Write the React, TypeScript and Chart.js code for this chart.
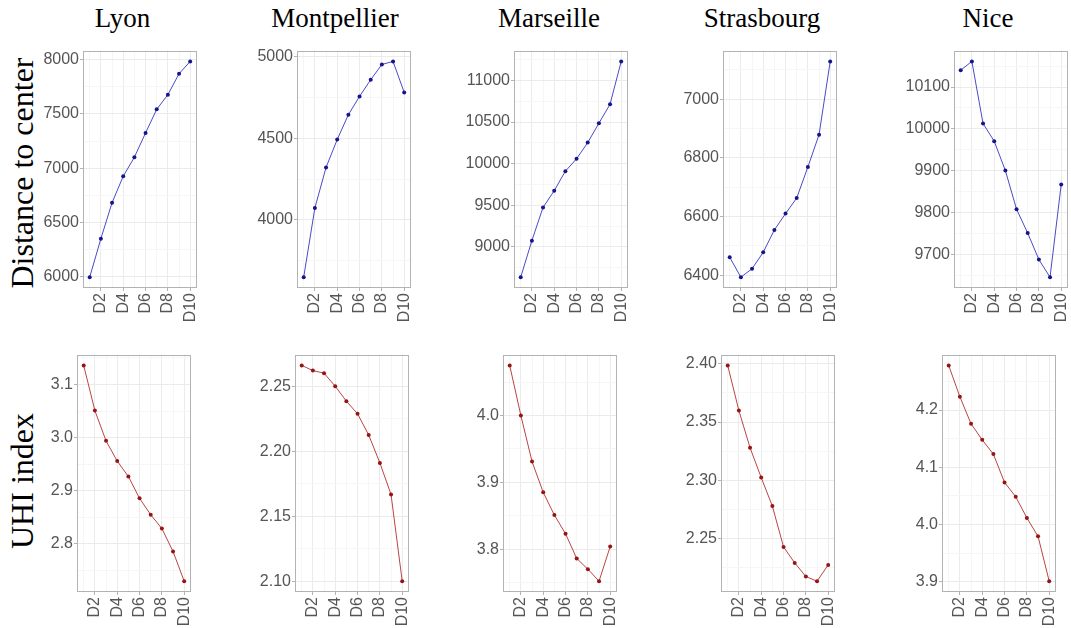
import React, { useEffect, useRef } from "react";
import { Chart, registerables } from "chart.js";

Chart.register(...registerables);

// ---------- data ----------
const deciles = ["D1", "D2", "D3", "D4", "D5", "D6", "D7", "D8", "D9", "D10"];
const cities = ["Lyon", "Montpellier", "Marseille", "Strasbourg", "Nice"];
const rowLabels = ["Distance to center", "UHI index"];

const distLyon = [5995, 6350, 6681, 6926, 7101, 7325, 7543, 7678, 7871, 7985];
const distMontpellier = [3650, 4073, 4321, 4492, 4644, 4756, 4858, 4951, 4970, 4780];
const distMarseille = [8637, 9076, 9475, 9675, 9910, 10058, 10253, 10485, 10713, 11228];
const distStrasbourg = [6461, 6393, 6422, 6478, 6554, 6610, 6663, 6769, 6879, 7129];
const distNice = [10140, 10161, 10013, 9971, 9901, 9809, 9752, 9689, 9647, 9868];

const uhiLyon = [3.136, 3.051, 2.994, 2.956, 2.927, 2.886, 2.855, 2.829, 2.786, 2.73];
const uhiMontpellier = [2.266, 2.262, 2.26, 2.25, 2.2385, 2.2288, 2.2124, 2.191, 2.1667, 2.1];
const uhiMarseille = [4.075, 4.0, 3.931, 3.885, 3.851, 3.823, 3.786, 3.77, 3.752, 3.804];
const uhiStrasbourg = [2.3986, 2.3599, 2.328, 2.3024, 2.2779, 2.2429, 2.2292, 2.2175, 2.2135, 2.2275];
const uhiNice = [4.278, 4.2232, 4.176, 4.148, 4.123, 4.0735, 4.0486, 4.0115, 3.9795, 3.901];

// y tick labels (major breaks) per panel
const distTicks = [
  [6000, 6500, 7000, 7500, 8000],
  [4000, 4500, 5000],
  [9000, 9500, 10000, 10500, 11000],
  [6400, 6600, 6800, 7000],
  [9700, 9800, 9900, 10000, 10100],
];
const uhiTicks = [
  [2.8, 2.9, 3.0, 3.1],
  [2.1, 2.15, 2.2, 2.25],
  [3.8, 3.9, 4.0],
  [2.25, 2.3, 2.35, 2.4],
  [3.9, 4.0, 4.1, 4.2],
];
const distDecimals = [0, 0, 0, 0, 0];
const uhiDecimals = [1, 2, 1, 2, 1];

const distSeries = [distLyon, distMontpellier, distMarseille, distStrasbourg, distNice];
const uhiSeries = [uhiLyon, uhiMontpellier, uhiMarseille, uhiStrasbourg, uhiNice];

// ---------- layout / style ----------
const PLOT_W = 119;
const PLOT_H = 238;
const YW = 60;
const XH = 40;
const PAD_T = 10;
const PAD_R = 10;
const topLefts = [83, 297, 514, 723, 954];
const bottomLefts = [77, 295, 503, 721, 942];
const rowTops = [50, 354];
const titleCenters = [122.5, 335, 549, 762, 988];

const MAJOR_GRID = "#ebebeb";
const MINOR_GRID = "#f6f6f6";
const BORDER = "#b3b3b3";
const TICK_TEXT = "#555555";
const TICK_FONT = { family: "'Liberation Sans', Arial, sans-serif", size: 16 };
const SERIF = "'Liberation Serif', 'Times New Roman', serif";

const frame = {
  id: "frame",
  afterDraw(chart: any) {
    const { left, top, right, bottom } = chart.chartArea;
    const ctx = chart.ctx;
    ctx.save();
    ctx.strokeStyle = BORDER;
    ctx.lineWidth = 1;
    ctx.strokeRect(Math.round(left) + 0.5, Math.round(top) + 0.5, Math.round(right - left) - 1, Math.round(bottom - top) - 1);
    ctx.restore();
  },
};

function Panel(props: {
  values: number[];
  major: number[];
  decimals: number;
  left: number;
  top: number;
  lineColor: string;
  pointColor: string;
}) {
  const ref = useRef<HTMLCanvasElement>(null);
  const { values, major, decimals, left, top, lineColor, pointColor } = props;
  const width = YW + PLOT_W + PAD_R;
  const height = PAD_T + PLOT_H + XH;

  useEffect(() => {
    const lo = Math.min(...values);
    const hi = Math.max(...values);
    const ex = (hi - lo) * 0.05;
    const ymin = lo - ex;
    const ymax = hi + ex;
    const step = major[1] - major[0];
    const tickVals: number[] = [];
    for (let k = -4; k <= major.length * 2 + 4; k++) {
      const v = major[0] + (k * step) / 2;
      if (v >= ymin && v <= ymax) tickVals.push(v);
    }
    const isMajor = (v: number) => major.some((m) => Math.abs(m - v) < step * 1e-3);

    const chart = new Chart(ref.current as HTMLCanvasElement, {
      type: "line",
      data: {
        datasets: [
          {
            data: values.map((y, i) => ({ x: i + 1, y })),
            borderColor: lineColor,
            borderWidth: 1,
            pointRadius: 2,
            pointBackgroundColor: pointColor,
            pointBorderWidth: 0,
            tension: 0,
          },
        ],
      },
      options: {
        animation: false,
        responsive: false,
        events: [],
        plugins: { legend: { display: false }, tooltip: { enabled: false } },
        layout: { padding: { top: PAD_T, right: PAD_R, left: 0, bottom: 0 } },
        scales: {
          x: {
            type: "linear",
            min: 0.4,
            max: 10.6,
            afterBuildTicks: (s: any) => {
              s.ticks = deciles.map((_, i) => ({ value: i + 1 }));
            },
            afterFit: (s: any) => {
              s.height = XH;
            },
            ticks: {
              autoSkip: false,
              minRotation: 90,
              maxRotation: 90,
              padding: 2,
              color: TICK_TEXT,
              font: TICK_FONT,
              callback: (v: any) => (Number(v) % 2 === 0 ? deciles[Number(v) - 1] : ""),
            },
            grid: {
              color: (c: any) => (c.tick && c.tick.value % 2 === 0 ? MAJOR_GRID : MINOR_GRID),
              tickColor: (c: any) => (c.tick && c.tick.value % 2 === 0 ? BORDER : "rgba(0,0,0,0)"),
              tickLength: 3,
              lineWidth: 1,
            },
            border: { display: false },
          },
          y: {
            type: "linear",
            min: ymin,
            max: ymax,
            afterBuildTicks: (s: any) => {
              s.ticks = tickVals.map((v) => ({ value: v }));
            },
            afterFit: (s: any) => {
              s.width = YW;
            },
            ticks: {
              autoSkip: false,
              padding: 1,
              color: TICK_TEXT,
              font: TICK_FONT,
              callback: (v: any) => (isMajor(Number(v)) ? Number(v).toFixed(decimals) : ""),
            },
            grid: {
              color: (c: any) => (c.tick && isMajor(c.tick.value) ? MAJOR_GRID : MINOR_GRID),
              tickColor: (c: any) => (c.tick && isMajor(c.tick.value) ? BORDER : "rgba(0,0,0,0)"),
              tickLength: 3,
              lineWidth: 1,
            },
            border: { display: false },
          },
        },
      },
      plugins: [frame],
    } as any);
    return () => chart.destroy();
  }, []);

  return (
    <canvas
      ref={ref}
      width={width}
      height={height}
      style={{ position: "absolute", left: left - YW, top: top - PAD_T, width, height }}
    />
  );
}

export default function App() {
  return (
    <div
      style={{
        position: "fixed",
        left: 0,
        top: 0,
        width: 1071,
        height: 628,
        overflow: "hidden",
        background: "#ffffff",
      }}
    >
      {cities.map((c, i) => (
        <div
          key={"t" + c}
          style={{
            position: "absolute",
            left: titleCenters[i] - 100,
            width: 200,
            top: 5,
            textAlign: "center",
            fontFamily: SERIF,
            fontSize: 27,
            lineHeight: "27px",
            color: "#000",
            whiteSpace: "nowrap",
          }}
        >
          {c}
        </div>
      ))}
      {rowLabels.map((r, i) => (
        <div
          key={"r" + r}
          style={{
            position: "absolute",
            left: 21.6 - 150,
            top: (i === 0 ? 173 : 481) - 16,
            width: 300,
            height: 32,
            textAlign: "center",
            fontFamily: SERIF,
            fontSize: 32,
            lineHeight: "32px",
            color: "#000",
            whiteSpace: "nowrap",
            transform: "rotate(-90deg)",
          }}
        >
          {r}
        </div>
      ))}
      {distSeries.map((vals, i) => (
        <Panel
          key={"d" + i}
          values={vals}
          major={distTicks[i]}
          decimals={distDecimals[i]}
          left={topLefts[i]}
          top={rowTops[0]}
          lineColor="#4a4ac6"
          pointColor="#14148f"
        />
      ))}
      {uhiSeries.map((vals, i) => (
        <Panel
          key={"u" + i}
          values={vals}
          major={uhiTicks[i]}
          decimals={uhiDecimals[i]}
          left={bottomLefts[i]}
          top={rowTops[1]}
          lineColor="#b84545"
          pointColor="#981414"
        />
      ))}
    </div>
  );
}
